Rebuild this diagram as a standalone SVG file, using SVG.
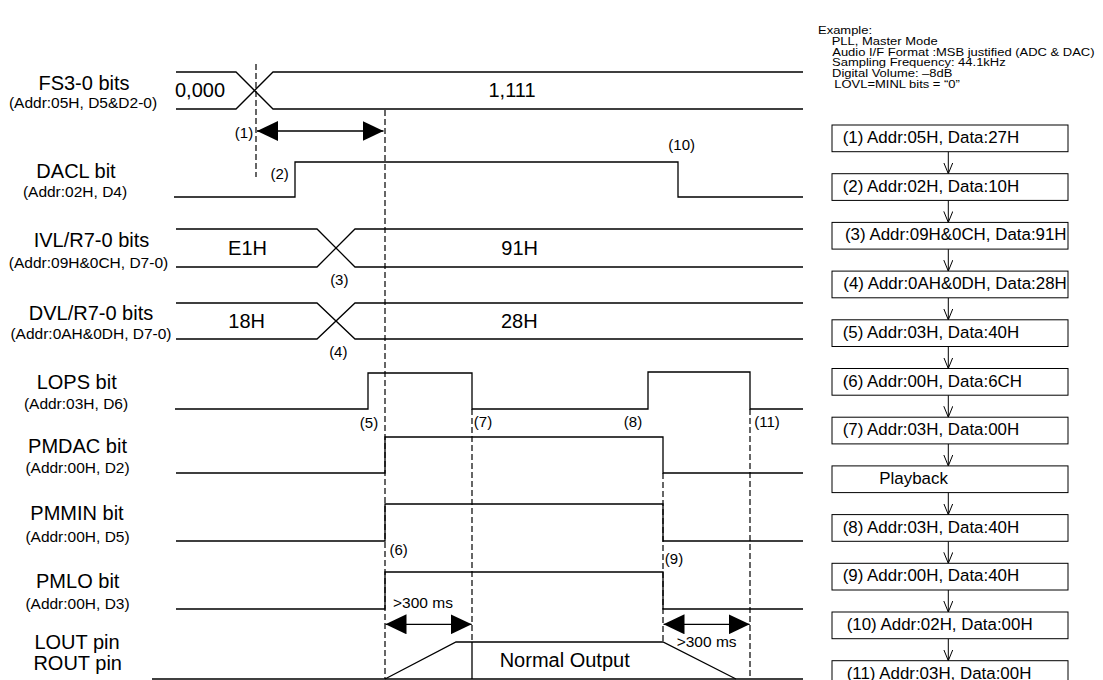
<svg xmlns="http://www.w3.org/2000/svg" width="1103" height="680" viewBox="0 0 1103 680">
<style>
text{font-family:"Liberation Sans",Arial,sans-serif;fill:#000}
.big{font-size:20px}
.sm{font-size:15.5px}
.mk{font-size:15px}
.ex{font-size:11px}
.bx{font-size:16.9px}
.w{fill:none;stroke:#000;stroke-width:1.3}
.d{fill:none;stroke:#000;stroke-width:1.2;stroke-dasharray:6 3}
.box{fill:#fff;stroke:#000;stroke-width:1}
.c{fill:none;stroke:#000;stroke-width:1}
</style>
<defs>
<marker id="fa" markerUnits="userSpaceOnUse" markerWidth="21" markerHeight="20" refX="21" refY="10" orient="auto-start-reverse" viewBox="0 0 21 20"><path d="M0,0 L21,10 L0,20 z" fill="#000"/></marker>
<marker id="va" markerUnits="userSpaceOnUse" markerWidth="12" markerHeight="11" refX="11" refY="5" orient="auto" viewBox="0 0 12 11"><path d="M0,0.5 L11,5 L0,9.5" fill="none" stroke="#000" stroke-width="1"/></marker>
</defs>

<g id="labels">
<text class="big" x="84" y="90" text-anchor="middle">FS3-0 bits</text>
<text class="sm" x="83" y="108" text-anchor="middle">(Addr:05H, D5&amp;D2-0)</text>
<text class="big" x="76" y="178" text-anchor="middle">DACL bit</text>
<text class="sm" x="75" y="197" text-anchor="middle">(Addr:02H, D4)</text>
<text class="big" x="91.5" y="247" text-anchor="middle">IVL/R7-0 bits</text>
<text class="sm" x="88.5" y="268" text-anchor="middle">(Addr:09H&amp;0CH, D7-0)</text>
<text class="big" x="91" y="320" text-anchor="middle">DVL/R7-0 bits</text>
<text class="sm" x="91" y="339" text-anchor="middle">(Addr:0AH&amp;0DH, D7-0)</text>
<text class="big" x="76.7" y="389" text-anchor="middle">LOPS bit</text>
<text class="sm" x="76" y="409" text-anchor="middle">(Addr:03H, D6)</text>
<text class="big" x="77.5" y="453" text-anchor="middle">PMDAC bit</text>
<text class="sm" x="77.5" y="473" text-anchor="middle">(Addr:00H, D2)</text>
<text class="big" x="77" y="520" text-anchor="middle">PMMIN bit</text>
<text class="sm" x="77.5" y="542" text-anchor="middle">(Addr:00H, D5)</text>
<text class="big" x="77.7" y="588" text-anchor="middle">PMLO bit</text>
<text class="sm" x="77.5" y="609" text-anchor="middle">(Addr:00H, D3)</text>
<text class="big" x="77" y="649" text-anchor="middle">LOUT pin</text>
<text class="big" x="77.7" y="670" text-anchor="middle">ROUT pin</text>
</g>

<g id="guides">
<line class="d" x1="256" y1="64" x2="256" y2="177"/>
<line class="d" x1="385" y1="110" x2="385" y2="679"/>
<line class="d" x1="472" y1="409" x2="472" y2="642"/>
<line class="d" x1="663" y1="473" x2="663" y2="642"/>
<line class="d" x1="750" y1="409" x2="750" y2="679"/>
</g>

<g id="waveforms">
<path class="w" d="M176,72 H236 L273,109 H803"/>
<path class="w" d="M176,109 H236 L273,72 H803"/>
<path class="w" d="M174,197 H295 V162 H678 V197 H803"/>
<path class="w" d="M176,229 H317 L355,267 H803"/>
<path class="w" d="M176,267 H317 L355,229 H803"/>
<path class="w" d="M176,303 H317 L355,339 H803"/>
<path class="w" d="M176,339 H317 L355,303 H803"/>
<path class="w" d="M175,409 H368 V373 H472 V409 H648 V372 H750 V409 H803"/>
<path class="w" d="M176,473 H385 V437 H663 V473 H803"/>
<path class="w" d="M176,541 H385 V504 H663 V541 H803"/>
<path class="w" d="M176,609 H385 V572 H663 V609 H803"/>
<path class="w" d="M152,679 H803"/>
<path class="w" d="M385,679 L456,642 H663 L736,679"/>
<path class="w" d="M472,642 V679"/>
</g>

<g id="values">
<text class="big" x="175" y="96.5">0,000</text>
<text class="big" x="512" y="96.5" text-anchor="middle">1,111</text>
<text class="big" x="247.5" y="255" text-anchor="middle">E1H</text>
<text class="big" x="519.7" y="254.5" text-anchor="middle">91H</text>
<text class="big" x="246.7" y="327.7" text-anchor="middle">18H</text>
<text class="big" x="519.3" y="327.7" text-anchor="middle">28H</text>
<text class="big" x="564.7" y="667" text-anchor="middle">Normal Output</text>
</g>

<g id="markers">
<text class="mk" x="244" y="137.5" text-anchor="middle">(1)</text>
<text class="mk" x="279.7" y="179" text-anchor="middle">(2)</text>
<text class="mk" x="339.3" y="285" text-anchor="middle">(3)</text>
<text class="mk" x="338.3" y="357" text-anchor="middle">(4)</text>
<text class="mk" x="369" y="427.5" text-anchor="middle">(5)</text>
<text class="mk" x="398.7" y="555" text-anchor="middle">(6)</text>
<text class="mk" x="483" y="427" text-anchor="middle">(7)</text>
<text class="mk" x="633" y="427" text-anchor="middle">(8)</text>
<text class="mk" x="674" y="564" text-anchor="middle">(9)</text>
<text class="mk" x="681.7" y="150" text-anchor="middle">(10)</text>
<text class="mk" x="767" y="427" text-anchor="middle">(11)</text>
<text class="sm" x="393" y="608">&gt;300 ms</text>
<text class="sm" x="676.7" y="647">&gt;300 ms</text>
</g>

<g id="timing-arrows">
<line class="w" x1="257" y1="131" x2="383.5" y2="131" marker-start="url(#fa)" marker-end="url(#fa)"/>
<line class="w" x1="385.5" y1="624.3" x2="471.7" y2="624.3" marker-start="url(#fa)" marker-end="url(#fa)"/>
<line class="w" x1="663.5" y1="624.3" x2="749.7" y2="624.3" marker-start="url(#fa)" marker-end="url(#fa)"/>
</g>

<g id="example" transform="translate(818 0) scale(1.18 1)">
<text class="ex" x="0" y="34">Example:</text>
<text class="ex" x="11.6" y="45">PLL, Master Mode</text>
<text class="ex" x="12.1" y="56">Audio I/F Format :MSB justified (ADC &amp; DAC)</text>
<text class="ex" x="11.9" y="66.5">Sampling Frequency: 44.1kHz</text>
<text class="ex" x="11.9" y="77">Digital Volume: –8dB</text>
<text class="ex" x="13.8" y="88">LOVL=MINL bits = “0”</text>
</g>

<g id="connectors">
<line class="c" x1="948.3" y1="151.7" x2="948.3" y2="173.7" marker-end="url(#va)"/>
<line class="c" x1="948.3" y1="200.4" x2="948.3" y2="222.4" marker-end="url(#va)"/>
<line class="c" x1="948.3" y1="249.1" x2="948.3" y2="271.1" marker-end="url(#va)"/>
<line class="c" x1="948.3" y1="297.8" x2="948.3" y2="319.8" marker-end="url(#va)"/>
<line class="c" x1="948.3" y1="346.5" x2="948.3" y2="368.5" marker-end="url(#va)"/>
<line class="c" x1="948.3" y1="395.2" x2="948.3" y2="417.2" marker-end="url(#va)"/>
<line class="c" x1="948.3" y1="443.9" x2="948.3" y2="465.9" marker-end="url(#va)"/>
<line class="c" x1="948.3" y1="492.6" x2="948.3" y2="514.6" marker-end="url(#va)"/>
<line class="c" x1="948.3" y1="541.3" x2="948.3" y2="563.3" marker-end="url(#va)"/>
<line class="c" x1="948.3" y1="590" x2="948.3" y2="612" marker-end="url(#va)"/>
<line class="c" x1="948.3" y1="638.7" x2="948.3" y2="660.7" marker-end="url(#va)"/>
</g>

<g id="step1"><rect class="box" x="832" y="125" width="236" height="26.7"/><text class="bx" x="842.7" y="143">(1) Addr:05H, Data:27H</text></g>
<g id="step2"><rect class="box" x="832" y="173.7" width="236" height="26.7"/><text class="bx" x="842.7" y="191.7">(2) Addr:02H, Data:10H</text></g>
<g id="step3"><rect class="box" x="832" y="222.4" width="236" height="26.7"/><text class="bx" x="845" y="240.4">(3) Addr:09H&amp;0CH, Data:91H</text></g>
<g id="step4"><rect class="box" x="832" y="271.1" width="236" height="26.7"/><text class="bx" x="843.3" y="289.1">(4) Addr:0AH&amp;0DH, Data:28H</text></g>
<g id="step5"><rect class="box" x="832" y="319.8" width="236" height="26.7"/><text class="bx" x="842.7" y="337.8">(5) Addr:03H, Data:40H</text></g>
<g id="step6"><rect class="box" x="832" y="368.5" width="236" height="26.7"/><text class="bx" x="842.7" y="386.5">(6) Addr:00H, Data:6CH</text></g>
<g id="step7"><rect class="box" x="832" y="417.2" width="236" height="26.7"/><text class="bx" x="842.7" y="435.2">(7) Addr:03H, Data:00H</text></g>
<g id="playback"><rect class="box" x="832" y="465.9" width="236" height="26.7"/><text class="bx" x="879.3" y="483.9">Playback</text></g>
<g id="step8"><rect class="box" x="832" y="514.6" width="236" height="26.7"/><text class="bx" x="842.7" y="532.6">(8) Addr:03H, Data:40H</text></g>
<g id="step9"><rect class="box" x="832" y="563.3" width="236" height="26.7"/><text class="bx" x="842.7" y="581.3">(9) Addr:00H, Data:40H</text></g>
<g id="step10"><rect class="box" x="832" y="612" width="236" height="26.7"/><text class="bx" x="846.7" y="630">(10) Addr:02H, Data:00H</text></g>
<g id="step11"><rect class="box" x="832" y="660.7" width="236" height="26.7"/><text class="bx" x="846.7" y="678.7">(11) Addr:03H, Data:00H</text></g>
</svg>
